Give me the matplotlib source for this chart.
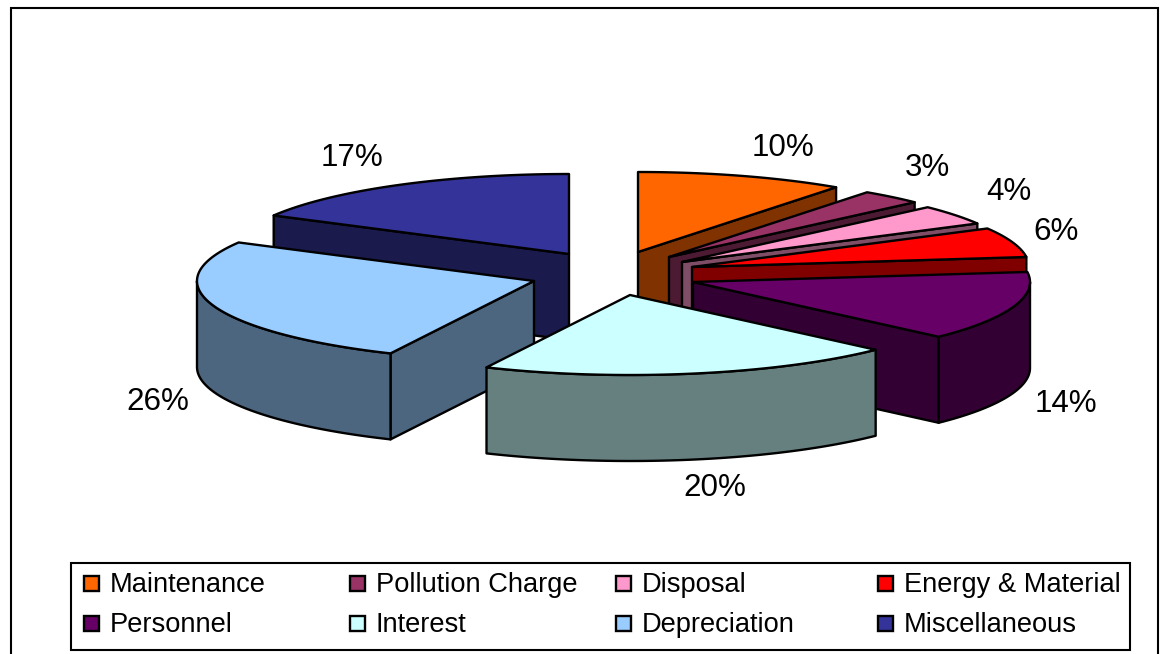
import numpy as np
import matplotlib
matplotlib.use("Agg")
import matplotlib.pyplot as plt
from matplotlib.patches import Polygon, Rectangle

plt.rcParams["font.family"] = ["Liberation Sans", "DejaVu Sans"]

# Cost shares in percent, clockwise from twelve o'clock
categories = ["Maintenance", "Pollution Charge", "Disposal", "Energy & Material",
              "Personnel", "Interest", "Depreciation", "Miscellaneous"]
shares = [10, 3, 4, 6, 14, 20, 26, 17]
colors = ["#FF6600", "#993366", "#FF99CC", "#FF0000",
          "#660066", "#CCFFFF", "#99CCFF", "#333399"]

# Exploded wedge hubs, in canvas pixels
hub_x = [638, 669, 682, 692, 693, 630, 534, 569]
hub_y = [252, 257, 262, 267, 282, 295, 281, 254]

# Percentage label centres, in canvas pixels
label_x = [783, 927, 1009, 1056, 1066, 715, 158, 352]
label_y = [148.5, 167.5, 192.5, 231.5, 403.5, 488.5, 402.5, 158.5]

# Legend layout, two rows of four
legend_order = [0, 1, 2, 3, 4, 5, 6, 7]
legend_col_x = [84, 350, 616, 878]
legend_row_y = [583, 623]

RX, RY, DEPTH = 337, 80, 86
EDGE = 1.7


def shade(hex_color, factor=0.5):
    rgb = np.array(matplotlib.colors.to_rgb(hex_color))
    return tuple(rgb * factor)


def rim(cx, cy, a0, a1):
    """Points along the elliptical rim between two clockwise angles in degrees."""
    t = np.radians(np.linspace(a0, a1, max(int(abs(a1 - a0) * 2), 2)))
    return np.column_stack([cx + RX * np.sin(t), cy - RY * np.cos(t)])


fig = plt.figure(figsize=(11.71, 6.54), dpi=100, facecolor="white")
ax = fig.add_axes([0, 0, 1, 1])
ax.set_xlim(0, 1171)
ax.set_ylim(654, 0)
ax.axis("off")

# Outer chart frame runs past the lower canvas edge
ax.add_patch(Rectangle((10.5, 7.5), 1147, 700, fc="white", ec="black", lw=1.5, zorder=0))

edges = np.cumsum([0] + shares) * 3.6
paint_order = [0, 1, 2, 3, 4, 7, 6, 5]

z = 1
for i in paint_order:
    a0, a1 = edges[i], edges[i + 1]
    cx, cy = hub_x[i], hub_y[i]
    top = colors[i]
    wall = shade(top)
    walls = []

    # Flat cut faces turned towards the viewer
    if np.sin(np.radians(a1)) > 0:
        p = rim(cx, cy, a1, a1)[0]
        walls.append([(cx, cy), p, (p[0], p[1] + DEPTH), (cx, cy + DEPTH)])
    if np.sin(np.radians(a0)) < 0:
        p = rim(cx, cy, a0, a0)[0]
        walls.append([(cx, cy), p, (p[0], p[1] + DEPTH), (cx, cy + DEPTH)])

    # Curved outer wall on the near half of the ellipse
    lo, hi = max(a0, 90), min(a1, 270)
    if lo < hi:
        arc = rim(cx, cy, lo, hi)
        low = arc + [0, DEPTH]
        walls.append(np.vstack([arc, low[::-1]]))

    for w in walls:
        ax.add_patch(Polygon(w, closed=True, fc=wall, ec="black", lw=EDGE,
                             joinstyle="round", zorder=z))
        z += 1

    face = np.vstack([[(cx, cy)], rim(cx, cy, a0, a1)])
    ax.add_patch(Polygon(face, closed=True, fc=top, ec="black", lw=EDGE,
                         joinstyle="round", zorder=z))
    z += 1

for share, x, y in zip(shares, label_x, label_y):
    ax.text(x, y, f"{share}%", ha="center", va="center", fontsize=22.6, color="black", zorder=z)

# Legend box with a fixed four-column grid
ax.add_patch(Rectangle((70.5, 562.5), 1059, 87, fc="white", ec="black", lw=1.5, zorder=z))
z += 1
for n, i in enumerate(legend_order):
    x = legend_col_x[n % 4]
    y = legend_row_y[n // 4]
    ax.add_patch(Rectangle((x, y - 7.5), 15, 15, fc=colors[i], ec="black", lw=1.7, zorder=z))
    ax.text(x + 26, y + 2, categories[i], ha="left", va="center", fontsize=19.6,
            color="black", zorder=z)

fig.savefig("out.png", dpi=100)
